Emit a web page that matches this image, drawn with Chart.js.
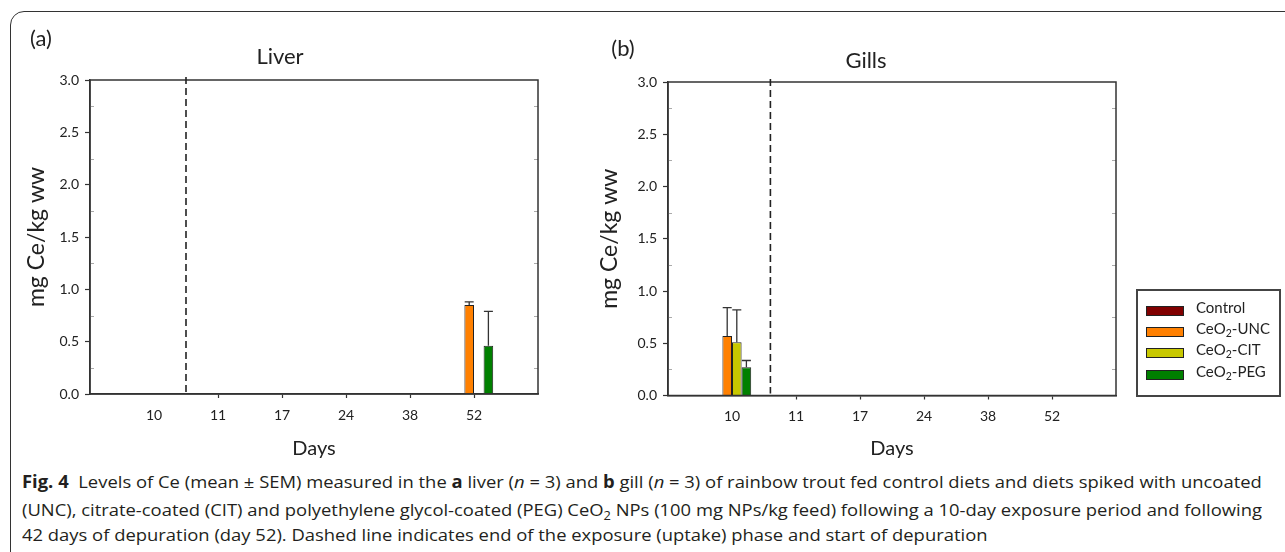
<!DOCTYPE html>
<html>
<head>
<meta charset="utf-8">
<script src="https://cdn.jsdelivr.net/npm/chart.js@4"></script>
<style>
  body { margin: 0; width: 1285px; height: 552px; overflow: hidden; background: #fff; font-family: Lato, sans-serif; color: #222; }
  .frame { position: absolute; left: 10px; top: 11px; width: 1300px; height: 600px; border: 1.5px solid #333; border-radius: 14px; }
  canvas { position: absolute; top: 0; }
  .lbl { position: absolute; transform: translate(-50%, -50%); white-space: nowrap; font-size: 22px; }
  .legend { position: absolute; left: 1136px; top: 289px; width: 141px; height: 104px; border: 2px solid #444; }
  .item { position: absolute; left: 8px; height: 20px; }
  .sw { position: absolute; left: 0; top: 4px; width: 36px; height: 8px; border: 1.5px solid #222; }
  .txt { position: absolute; left: 50px; top: -4px; font-size: 15px; white-space: nowrap; }
  sub { font-size: 70%; vertical-align: -0.3em; line-height: 0; }
  .cap { position: absolute; left: 22px; font-family: "Open Sans", sans-serif; font-size: 17px; line-height: 20px; white-space: nowrap; transform-origin: 0 50%; color: #231f20; }
</style>
</head>
<body>
<div class="frame"></div>
<canvas id="liver" width="560" height="470" style="left:0px"></canvas>
<canvas id="gills" width="560" height="470" style="left:578px"></canvas>
<div class="lbl" style="left:41px;top:37px">(a)</div>
<div class="lbl" style="left:280px;top:55px">Liver</div>
<div class="lbl" style="left:623px;top:47px">(b)</div>
<div class="lbl" style="left:866px;top:59px">Gills</div>
<div class="legend" id="legend"></div>
<div class="cap" id="cap1" style="top:472px"><b>Fig. 4</b>&nbsp; Levels of Ce (mean ± SEM) measured in the <b>a</b> liver (<i>n</i> = 3) and <b>b</b> gill (<i>n</i> = 3) of rainbow trout fed control diets and diets spiked with uncoated</div>
<div class="cap" id="cap2" style="top:500px">(UNC), citrate-coated (CIT) and polyethylene glycol-coated (PEG) CeO<sub>2</sub> NPs (100 mg NPs/kg feed) following a 10-day exposure period and following</div>
<div class="cap" id="cap3" style="top:525px">42 days of depuration (day 52). Dashed line indicates end of the exposure (uptake) phase and start of depuration</div>
<script>
const days = ["10", "11", "17", "24", "38", "52"];
const seriesNames = ["Control", "CeO2-UNC", "CeO2-CIT", "CeO2-PEG"];
const seriesColors = ["#800000", "#ff8000", "#c8c800", "#008000"];

// liver, mean per day
const liverControl = [0.005, null, null, null, null, 0.005];
const liverUNC = [0.005, null, null, null, null, 0.85];
const liverCIT = [0.005, null, null, null, null, null];
const liverPEG = [0.005, null, null, null, null, 0.46];
// liver, SEM per day
const liverUNCErr = [null, null, null, null, null, 0.03];
const liverPEGErr = [null, null, null, null, null, 0.33];

// gills, mean per day
const gillsControl = [0.005, null, null, null, null, null];
const gillsUNC = [0.57, null, null, null, null, null];
const gillsCIT = [0.51, null, null, null, null, null];
const gillsPEG = [0.27, null, null, null, null, null];
// gills, SEM per day
const gillsUNCErr = [0.27, null, null, null, null, null];
const gillsCITErr = [0.31, null, null, null, null, null];
const gillsPEGErr = [0.065, null, null, null, null, null];

// dashed line position, in day slots (between day 10 and day 11)
const liverSplit = 1.5;
const gillsSplit = 1.6;

const yMax = 3;

const pad = a => [null, ...a, null];
const tickFont = { family: "Lato", size: 14 };

const framePlugin = {
  id: "frame",
  afterDatasetsDraw(chart, args, opts) {
    const { ctx, chartArea: a, scales: { x, y } } = chart;
    ctx.save();
    // error bars (upper only)
    ctx.strokeStyle = "#333";
    ctx.lineWidth = 1.3;
    opts.errors.forEach((errs, i) => {
      if (!errs) return;
      const meta = chart.getDatasetMeta(i);
      const vals = chart.data.datasets[i].data;
      meta.data.forEach((bar, j) => {
        const e = errs[j];
        if (e == null || vals[j] == null) return;
        const top = y.getPixelForValue(vals[j] + e);
        ctx.beginPath();
        ctx.moveTo(bar.x, bar.y);
        ctx.lineTo(bar.x, top);
        ctx.moveTo(bar.x - 4.5, top);
        ctx.lineTo(bar.x + 4.5, top);
        ctx.stroke();
      });
    });
    // minor ticks inside on both sides
    ctx.strokeStyle = "#aaa";
    ctx.lineWidth = 1;
    for (let v = 0.25; v < yMax; v += 0.5) {
      const py = Math.round(y.getPixelForValue(v)) + 0.5;
      ctx.beginPath();
      ctx.moveTo(a.left, py); ctx.lineTo(a.left + 4, py);
      ctx.moveTo(a.right, py); ctx.lineTo(a.right - 4, py);
      ctx.stroke();
    }
    // plot box
    ctx.strokeStyle = "#333";
    ctx.lineWidth = 1.5;
    ctx.strokeRect(a.left, a.top, a.right - a.left, a.bottom - a.top);
    // dashed end-of-exposure line
    const px = x.getPixelForValue(opts.split);
    ctx.setLineDash([7, 4]);
    ctx.lineWidth = 1.6;
    ctx.strokeStyle = "#222";
    ctx.beginPath();
    ctx.moveTo(px, a.top - 3);
    ctx.lineTo(px, a.bottom - 2);
    ctx.stroke();
    ctx.restore();
  }
};

function makeChart(id, series, errors, split, topPad, xHeight, titlePad) {
  const ctx = document.getElementById(id).getContext("2d");
  return new Chart(ctx, {
    type: "bar",
    data: {
      labels: pad(days),
      datasets: series.map((s, i) => ({
        label: seriesNames[i],
        data: pad(s),
        backgroundColor: seriesColors[i],
        borderColor: "#222",
        borderWidth: 1,
        categoryPercentage: 0.6,
        barPercentage: 1.0
      }))
    },
    options: {
      responsive: false,
      animation: false,
      layout: { padding: { top: topPad, right: 22, left: 0, bottom: 0 } },
      plugins: {
        legend: { display: false },
        tooltip: { enabled: false },
        frame: { errors: errors.map(e => (e ? pad(e) : null)), split: split }
      },
      scales: {
        x: {
          offset: false,
          afterFit: s => { s.height = xHeight; },
          ticks: { color: "#222", font: tickFont, padding: 9, autoSkip: false, maxRotation: 0 },
          grid: {
            offset: false,
            drawOnChartArea: false,
            tickLength: 4,
            tickWidth: 1.2,
            tickColor: c => (c.index === 0 || c.index === days.length + 1 ? "rgba(0,0,0,0)" : "#333")
          },
          border: { color: "#333", width: 1.5 },
          title: { display: true, text: "Days", color: "#222", font: { family: "Lato", size: 20 }, padding: { top: 0, bottom: 9 } }
        },
        y: {
          min: 0,
          max: yMax,
          afterFit: s => { s.width = 90; },
          ticks: {
            stepSize: 0.25,
            autoSkip: false,
            color: "#222",
            font: tickFont,
            padding: 6,
            callback: v => (v % 0.5 === 0 ? v.toFixed(1) : "")
          },
          grid: {
            drawOnChartArea: false,
            tickLength: 5,
            tickWidth: 1.2,
            tickColor: c => (c.tick && c.tick.value % 0.5 === 0 ? "#333" : "rgba(0,0,0,0)")
          },
          border: { color: "#333", width: 1.5 },
          title: { display: true, text: "mg Ce/kg ww", color: "#222", font: { family: "Lato", size: 23 }, padding: { top: titlePad, bottom: 0 } }
        }
      }
    },
    plugins: [framePlugin]
  });
}

makeChart("liver",
  [liverControl, liverUNC, liverCIT, liverPEG],
  [null, liverUNCErr, null, liverPEGErr],
  liverSplit, 80, 76, 23);

makeChart("gills",
  [gillsControl, gillsUNC, gillsCIT, gillsPEG],
  [null, gillsUNCErr, gillsCITErr, gillsPEGErr],
  gillsSplit, 82, 74.5, 18);

// legend
const legendEl = document.getElementById("legend");
seriesNames.forEach((name, i) => {
  const item = document.createElement("div");
  item.className = "item";
  item.style.top = (10.5 + i * 21.4) + "px";
  item.innerHTML = '<div class="sw" style="background:' + seriesColors[i] + '"></div>' +
    '<div class="txt">' + name.replace("O2", "O<sub>2</sub>") + "</div>";
  legendEl.appendChild(item);
});

// squeeze caption lines to the column width
const cap1 = document.getElementById("cap1");
const cap2 = document.getElementById("cap2");
const cap3 = document.getElementById("cap3");
const k1 = 1240 / cap1.offsetWidth;
const k2 = 1240 / cap2.offsetWidth;
cap1.style.transform = "scaleX(" + k1 + ")";
cap2.style.transform = "scaleX(" + k2 + ")";
cap3.style.transform = "scaleX(" + k1 + ")";
</script>
</body>
</html>
